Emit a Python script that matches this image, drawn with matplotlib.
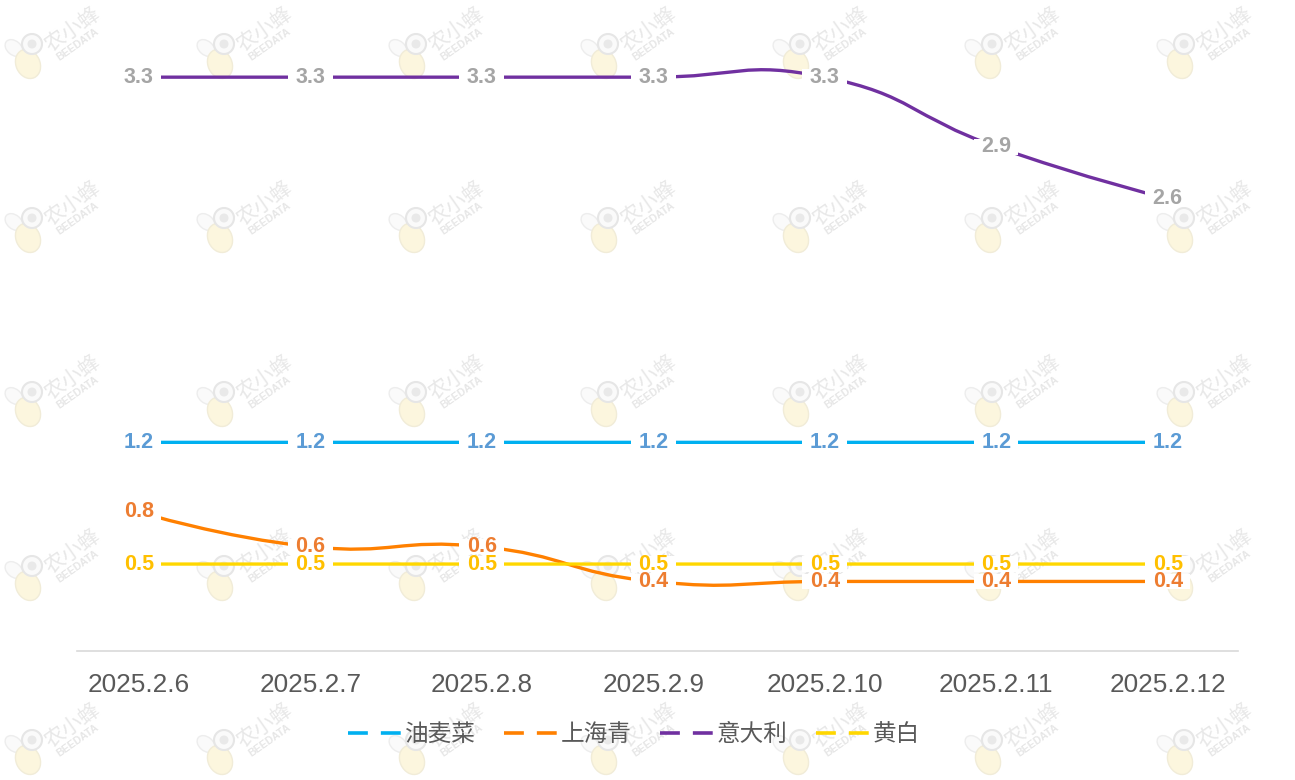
import numpy as np
import matplotlib
matplotlib.use("Agg")
import matplotlib.pyplot as plt
from matplotlib.path import Path
from matplotlib.patches import PathPatch, Ellipse, Circle, Rectangle
from matplotlib.lines import Line2D

plt.rcParams['font.family'] = ['Liberation Sans', 'Noto Sans CJK SC', 'DejaVu Sans']

# === Data ===
dates = ['2025.2.6', '2025.2.7', '2025.2.8', '2025.2.9', '2025.2.10', '2025.2.11', '2025.2.12']
youmaicai = [1.2, 1.2, 1.2, 1.2, 1.2, 1.2, 1.2]
shanghaiqing = [0.8, 0.6, 0.6, 0.4, 0.4, 0.4, 0.4]
yidali = [3.3, 3.3, 3.3, 3.3, 3.3, 2.9, 2.6]
huangbai = [0.5, 0.5, 0.5, 0.5, 0.5, 0.5, 0.5]

series_names = ['油麦菜', '上海青', '意大利', '黄白']
series_values = [youmaicai, shanghaiqing, yidali, huangbai]
line_colors = ['#00B0F0', '#FF8000', '#7030A0', '#FFD700']
label_colors = ['#5B9BD5', '#ED7D31', '#A5A5A5', '#FFC000']


def smooth_path(xs, ys, smooth=0.5):
    # echarts-like bezier smoothing
    pts = np.column_stack([xs, ys]).astype(float)
    n = len(pts)
    cp_in = pts.copy()
    cp_out = pts.copy()
    for i in range(1, n - 1):
        prev, nxt = pts[i - 1], pts[i + 1]
        d0 = np.linalg.norm(pts[i] - prev)
        d1 = np.linalg.norm(nxt - pts[i])
        v = (nxt - prev) * smooth
        cp_in[i] = pts[i] - v * d0 / (d0 + d1)
        cp_out[i] = pts[i] + v * d1 / (d0 + d1)
    verts = [pts[0]]
    codes = [Path.MOVETO]
    for i in range(n - 1):
        verts += [cp_out[i], cp_in[i + 1], pts[i + 1]]
        codes += [Path.CURVE4] * 3
    return Path(verts, codes)


W, H = 1295, 780
fig = plt.figure(figsize=(W / 100, H / 100), dpi=100)

# === Watermark layer (pixel coords) ===
wm = fig.add_axes([0, 0, 1, 1], zorder=0)
wm.set_xlim(0, W)
wm.set_ylim(H, 0)
wm.axis('off')
for i in range(7):
    for j in range(5):
        hx = 32 + 192 * i
        hy = 44 + 174 * j
        wm.add_patch(Ellipse((hx - 18, hy + 4), 14, 20, angle=-50, fc='#FAFAFA', ec='#EDEDED', lw=1))
        wm.add_patch(Ellipse((hx - 4, hy + 20), 24, 30, angle=-25, fc='#FCF6DE', ec='#F1ECD8', lw=1))
        wm.add_patch(Circle((hx, hy), 10, fc='#FAFAFA', ec='#E6E6E6', lw=1.5))
        wm.add_patch(Circle((hx, hy), 4.5, fc='#E9E9E9', ec='none'))
        wm.text(hx + 40, hy - 15, '农小蜂', fontsize=15, color='#E8E8E8', rotation=35,
                ha='center', va='center', family=['Noto Sans CJK SC'])
        wm.text(hx + 46, hy + 0, 'BEEDATA', fontsize=7.5, color='#E6E6E6', rotation=35,
                ha='center', va='center', fontweight='bold')

# === Main axes ===
ax = fig.add_axes([77 / W, (H - 651) / H, (1238 - 77) / W, (651 - 25) / H], zorder=1)
ax.patch.set_alpha(0)
x = np.arange(len(dates))
ax.set_xlim(-0.36, 6.41)
ax.set_ylim(0, 3.6)

for k, (name, vals) in enumerate(zip(series_names, series_values)):
    ax.add_patch(PathPatch(smooth_path(x, vals), fill=False, ec=line_colors[k], lw=2.4,
                           capstyle='round', joinstyle='round', zorder=2 + k * 0.1))

# white gaps in the lines behind the labels
gap_w, gap_h = 0.26, 0.09
for k, vals in enumerate(series_values):
    for xi, v in zip(x, vals):
        ax.add_patch(Rectangle((xi - gap_w / 2, v - gap_h / 2), gap_w, gap_h,
                               fc='white', ec='none', zorder=4))
for k, vals in enumerate(series_values):
    for xi, v in zip(x, vals):
        ax.text(xi, v, f'{v:.1f}', ha='center', va='center', fontsize=15.5, fontweight='bold',
                color=label_colors[k], zorder=5 + k * 0.1)

ax.set_xticks(x)
ax.set_xticklabels(dates, fontsize=18.8, color='#595959')
ax.tick_params(axis='x', length=0, pad=16)
ax.set_yticks([])
for s in ['top', 'right', 'left']:
    ax.spines[s].set_visible(False)
ax.spines['bottom'].set_color('#D9D9D9')
ax.spines['bottom'].set_linewidth(1.2)

handles = [Line2D([], [], color=c, lw=2.6, linestyle=(0, (5.5, 3.6))) for c in line_colors]
fig.legend(handles, series_names, loc='center', bbox_to_anchor=(634 / W, 1 - 735 / H), ncol=4,
           frameon=False, fontsize=17, labelcolor='#595959', handlelength=2.3,
           handletextpad=0.1, columnspacing=1.2)

fig.savefig('out.png', dpi=100)
